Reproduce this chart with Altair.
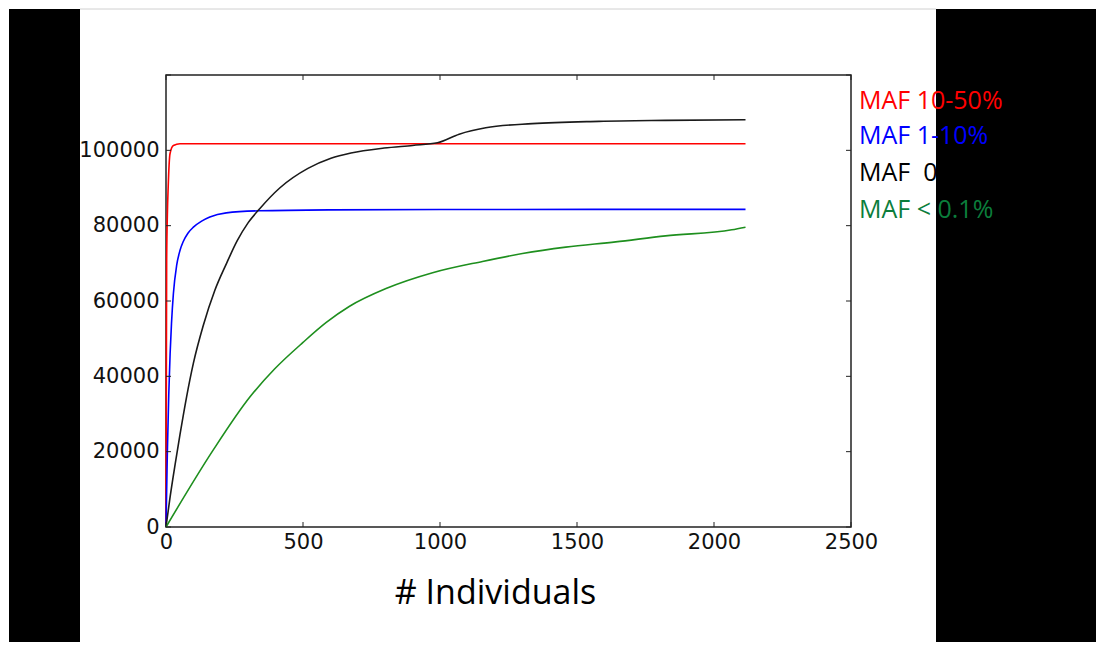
import altair as alt
import pandas as pd

# ---- data ----
red_x = [0, 1, 2.4, 5, 8, 14.6, 27, 51, 2115]
red_y = [0, 30000, 70800, 83000, 90300, 99100, 101300, 101760, 101760]

blue_x = [0, 3, 5, 10, 15, 20, 27, 39, 51, 63, 80, 100, 130, 160, 220, 340, 600, 1000, 2115]
blue_y = [0, 12000, 20000, 35000, 46000, 54000, 62000, 69500, 73400, 75800, 78000, 79600,
          81200, 82300, 83400, 83950, 84200, 84300, 84330]

black_x = [0, 15, 33, 51, 75, 100, 136, 178, 221, 260, 300, 342, 415, 518, 602, 675, 796,
           900, 991, 1070, 1167, 1337, 1580, 1823, 2115]
black_y = [0, 8000, 16500, 24500, 34500, 43500, 53500, 62800, 70000, 76000, 80800, 84500,
           90000, 95200, 97900, 99300, 100600, 101300, 102000, 104300, 106000, 107100,
           107700, 107950, 108130]

green_x = [0, 172, 306, 397, 500, 585, 670, 803, 973, 1155, 1301, 1459, 1641, 1823, 2065, 2115]
green_y = [0, 20400, 34500, 42000, 49000, 54300, 58600, 63300, 67500, 70500, 72600, 74300,
           75700, 77300, 78900, 79600]

series_names = ["MAF 10-50%", "MAF 1-10%", "MAF 0.1-1%", "MAF < 0.1%"]
line_colors = ["#ff0000", "#0000ff", "#1a1a1a", "#1e8f1e"]
legend_labels = ["MAF 10-50%", "MAF 1-10%", "MAF\u00a0 0.1-1%", "MAF < 0.1%"]
legend_colors = ["#ff0000", "#0000ff", "#000000", "#0b7d3b"]

x_ticks = [0, 500, 1000, 1500, 2000, 2500]
y_ticks = [0, 20000, 40000, 60000, 80000, 100000, 120000]
y_labels = [0, 20000, 40000, 60000, 80000, 100000]

# ---- layout (pixels) ----
W, H = 685, 452
FONT_TICK = "DejaVu Sans"
FONT_TEXT = "Open Sans"

rows = []
for name, xs, ys in zip(series_names, [red_x, blue_x, black_x, green_x],
                        [red_y, blue_y, black_y, green_y]):
    for a, b in zip(xs, ys):
        rows.append({"series": name, "n": a, "v": b})
df = pd.DataFrame(rows)

xscale = alt.Scale(domain=[0, 2500], nice=False, zero=False)
yscale = alt.Scale(domain=[0, 120000], nice=False, zero=False)

x_axis = alt.Axis(values=x_ticks, ticks=False, tickSize=0, domain=False, grid=False,
                  labelFont=FONT_TICK, labelFontSize=21, labelColor="#111",
                  labelPadding=4, labelFlush=False, labelOverlap=False, format="d",
                  title="# Individuals", titleFont=FONT_TEXT, titleFontSize=34,
                  titleFontWeight="normal", titleColor="black",
                  titleX=329, titleY=76, titleAlign="center", titleBaseline="alphabetic")
y_axis = alt.Axis(values=y_labels, ticks=False, tickSize=0, domain=False, grid=False,
                  labelFont=FONT_TICK, labelFontSize=21, labelColor="#111",
                  labelPadding=7, labelFlush=False, labelOverlap=False, format="d",
                  title=None)

one = pd.DataFrame({"k": [0]})

# slide decoration
left_black = alt.Chart(one).mark_rect(color="black").encode(
    x=alt.value(-157), x2=alt.value(-86), y=alt.value(-66), y2=alt.value(580))
right_black = alt.Chart(one).mark_rect(color="black").encode(
    x=alt.value(770), x2=alt.value(960), y=alt.value(-66), y2=alt.value(580))
top_line = alt.Chart(one).mark_rule(color="#d0d0d0", strokeWidth=1).encode(
    x=alt.value(-86), x2=alt.value(770), y=alt.value(-66))

lines = alt.Chart(df).mark_line(strokeWidth=1.6, interpolate="monotone").encode(
    x=alt.X("n:Q", scale=xscale, axis=x_axis),
    y=alt.Y("v:Q", scale=yscale, axis=y_axis),
    color=alt.Color("series:N", scale=alt.Scale(domain=series_names, range=line_colors),
                    legend=None),
)

tx = pd.DataFrame({"n": x_ticks})
ty = pd.DataFrame({"v": y_ticks})
tick_style = dict(color="#222", strokeWidth=1)
ticks_bottom = alt.Chart(tx).mark_rule(**tick_style).encode(
    x=alt.X("n:Q", scale=xscale, axis=x_axis), y=alt.value(H), y2=alt.value(H - 5))
ticks_top = alt.Chart(tx).mark_rule(**tick_style).encode(
    x=alt.X("n:Q", scale=xscale, axis=x_axis), y=alt.value(0), y2=alt.value(5))
ticks_left = alt.Chart(ty).mark_rule(**tick_style).encode(
    y=alt.Y("v:Q", scale=yscale, axis=y_axis), x=alt.value(0), x2=alt.value(5))
ticks_right = alt.Chart(ty).mark_rule(**tick_style).encode(
    y=alt.Y("v:Q", scale=yscale, axis=y_axis), x=alt.value(W), x2=alt.value(W - 5))

legend_layers = []
legend_y = [34, 69, 106, 143]
for lab, col, yy in zip(legend_labels, legend_colors, legend_y):
    legend_layers.append(
        alt.Chart(pd.DataFrame({"label": [lab]})).mark_text(
            align="left", baseline="alphabetic", font=FONT_TEXT, fontSize=25, color=col
        ).encode(x=alt.value(693), y=alt.value(yy), text="label:N")
    )

chart = alt.layer(
    left_black, right_black, top_line, lines,
    ticks_bottom, ticks_top, ticks_left, ticks_right,
    *legend_layers
).properties(
    width=W, height=H,
    padding={"left": 158, "top": 67, "right": 245, "bottom": 115},
    autosize=alt.AutoSizeParams(type="none"),
    background="white",
).configure_view(stroke="#222", strokeWidth=1.5)

chart.save("out.html", embed_options={"renderer": "svg", "actions": False})
